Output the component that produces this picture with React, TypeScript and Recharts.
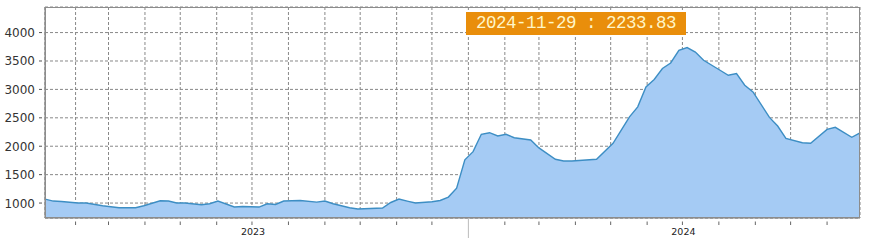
import React from "react"
import { AreaChart, Area, XAxis, YAxis, CartesianGrid } from "recharts"

// weekly closes, vertices
const DATES = [
  "2023-01-06", "2023-01-13", "2023-01-20", "2023-02-03", "2023-02-10", "2023-02-24",
  "2023-03-10", "2023-03-24", "2023-03-31", "2023-04-14", "2023-04-21", "2023-04-28",
  "2023-05-05", "2023-05-19", "2023-05-26", "2023-06-02", "2023-06-16", "2023-06-23",
  "2023-07-07", "2023-07-14", "2023-07-21", "2023-07-28", "2023-08-11", "2023-08-25",
  "2023-09-01", "2023-09-08", "2023-09-22", "2023-09-29", "2023-10-20", "2023-10-27",
  "2023-11-03", "2023-11-10", "2023-11-17", "2023-12-01", "2023-12-08", "2023-12-15",
  "2023-12-22", "2023-12-29", "2024-01-05", "2024-01-12", "2024-01-19", "2024-01-26",
  "2024-02-02", "2024-02-09", "2024-02-23", "2024-03-01", "2024-03-15", "2024-03-22",
  "2024-03-29", "2024-04-19", "2024-05-03", "2024-05-10", "2024-05-17", "2024-05-24",
  "2024-05-31", "2024-06-07", "2024-06-14", "2024-06-21", "2024-06-28", "2024-07-05",
  "2024-07-12", "2024-07-19", "2024-08-02", "2024-08-09", "2024-08-16", "2024-08-23",
  "2024-08-30", "2024-09-13", "2024-09-20", "2024-09-27", "2024-10-11", "2024-10-18",
  "2024-11-01", "2024-11-08", "2024-11-22", "2024-11-29",
]

const VALUES = [
  1070, 1035, 1028, 1000, 1000, 953,
  918, 918, 953, 1040, 1035, 1000,
  1000, 970, 988, 1035, 930, 940,
  930, 988, 975, 1035, 1045, 1017,
  1035, 988, 918, 895, 912, 1010,
  1070, 1035, 1000, 1023, 1045, 1105,
  1263, 1760, 1905, 2210, 2238, 2180,
  2210, 2150, 2110, 1970, 1771, 1741,
  1741, 1771, 2052, 2285, 2518, 2693,
  3044, 3174, 3367, 3465, 3687, 3735,
  3658, 3512, 3337, 3249, 3279, 3074,
  2956, 2508, 2355, 2139, 2062, 2052,
  2297, 2332, 2157, 2233.83,
]

const MONTH_TICKS = [
  "2023-02-01", "2023-03-01", "2023-04-01", "2023-05-01", "2023-06-01", "2023-07-01",
  "2023-08-01", "2023-09-01", "2023-10-01", "2023-11-01", "2023-12-01", "2024-01-01",
  "2024-02-01", "2024-03-01", "2024-04-01", "2024-05-01", "2024-06-01", "2024-07-01",
  "2024-08-01", "2024-09-01", "2024-10-01", "2024-11-01",
]
const YEAR_LABEL_DATES = ["2023-07-01", "2024-07-01"]
const YEAR_LABELS = ["2023", "2024"]
const YEAR_START = "2024-01-01"

const Y_TICKS = [1000, 1500, 2000, 2500, 3000, 3500, 4000]

const data = DATES.map((d, i) => ({ t: Date.parse(d), v: VALUES[i] }))

const W = 871
const H = 245
const M = { top: 7, right: 11, bottom: 0, left: 0 }
const Y_AXIS_W = 45
const X_AXIS_H = 27

function YTick(props: any) {
  const { x, y, payload } = props
  return (
    <g>
      <line x1={x - 6} x2={x - 3} y1={y} y2={y} stroke="#555" />
      <text x={x - 10} y={y} dy={4.5} textAnchor="end" fontSize={12} fill="#333" fontFamily="DejaVu Sans, sans-serif">
        {payload.value}
      </text>
    </g>
  )
}

function XTick(props: any) {
  const { x, y, payload } = props
  const iso = new Date(payload.value).toISOString().slice(0, 10)
  const li = YEAR_LABEL_DATES.indexOf(iso)
  return (
    <g>
      {iso === YEAR_START ? (
        <line x1={x} x2={x} y1={y} y2={y + 20} stroke="#bbb" />
      ) : (
        <line x1={x} x2={x} y1={y + 3.5} y2={y + 7} stroke="#666" />
      )}
      {li >= 0 && (
        <text x={x + 1} y={y + 16.5} textAnchor="middle" fontSize={9.5} fill="#222" fontFamily="DejaVu Sans, sans-serif">
          {YEAR_LABELS[li]}
        </text>
      )}
    </g>
  )
}

export default function App() {
  const last = data[data.length - 1]
  const lastLabel = `${DATES[DATES.length - 1]} : ${last.v.toFixed(2)}`
  const plotLeft = M.left + Y_AXIS_W
  const plotTop = M.top
  const plotW = W - M.right - plotLeft
  const plotH = H - M.bottom - X_AXIS_H - plotTop

  return (
    <div style={{ position: "absolute", left: 0, top: 0, width: W, height: H, background: "white" }}>
      <AreaChart width={W} height={H} data={data} margin={M}>
        <CartesianGrid stroke="#888" strokeDasharray="3 2" />
        <XAxis
          dataKey="t"
          type="number"
          scale="linear"
          domain={[Date.parse("2023-01-06"), Date.parse("2024-11-29")]}
          allowDataOverflow
          ticks={MONTH_TICKS.map((d) => Date.parse(d))}
          interval={0}
          height={X_AXIS_H}
          tickSize={0}
          tickMargin={0}
          tickLine={false}
          axisLine={{ stroke: "#777" }}
          tick={<XTick />}
        />
        <YAxis
          type="number"
          domain={[737, 4450]}
          allowDataOverflow
          ticks={Y_TICKS}
          interval={0}
          width={Y_AXIS_W}
          tickSize={0}
          tickMargin={0}
          tickLine={false}
          axisLine={{ stroke: "#777" }}
          tick={<YTick />}
        />
        <Area
          type="linear"
          dataKey="v"
          stroke="#3d8ec4"
          strokeWidth={1.4}
          fill="#a5cbf4"
          fillOpacity={1}
          dot={false}
          activeDot={false}
          isAnimationActive={false}
        />
      </AreaChart>
      <div
        style={{
          position: "absolute",
          left: plotLeft,
          top: plotTop,
          width: plotW,
          height: plotH,
          boxSizing: "border-box",
          border: "1px solid #8c8c8c",
          pointerEvents: "none",
        }}
      />
      <div
        style={{
          position: "absolute",
          left: 466,
          top: 12,
          width: 220,
          height: 23,
          boxSizing: "border-box",
          background: "#e98e0b",
          color: "#fff6c8",
          fontFamily: "Liberation Mono, monospace",
          fontSize: 17.5,
          letterSpacing: -0.5,
          lineHeight: "23px",
          paddingLeft: 10,
          whiteSpace: "pre",
        }}
      >
        {lastLabel}
      </div>
    </div>
  )
}
